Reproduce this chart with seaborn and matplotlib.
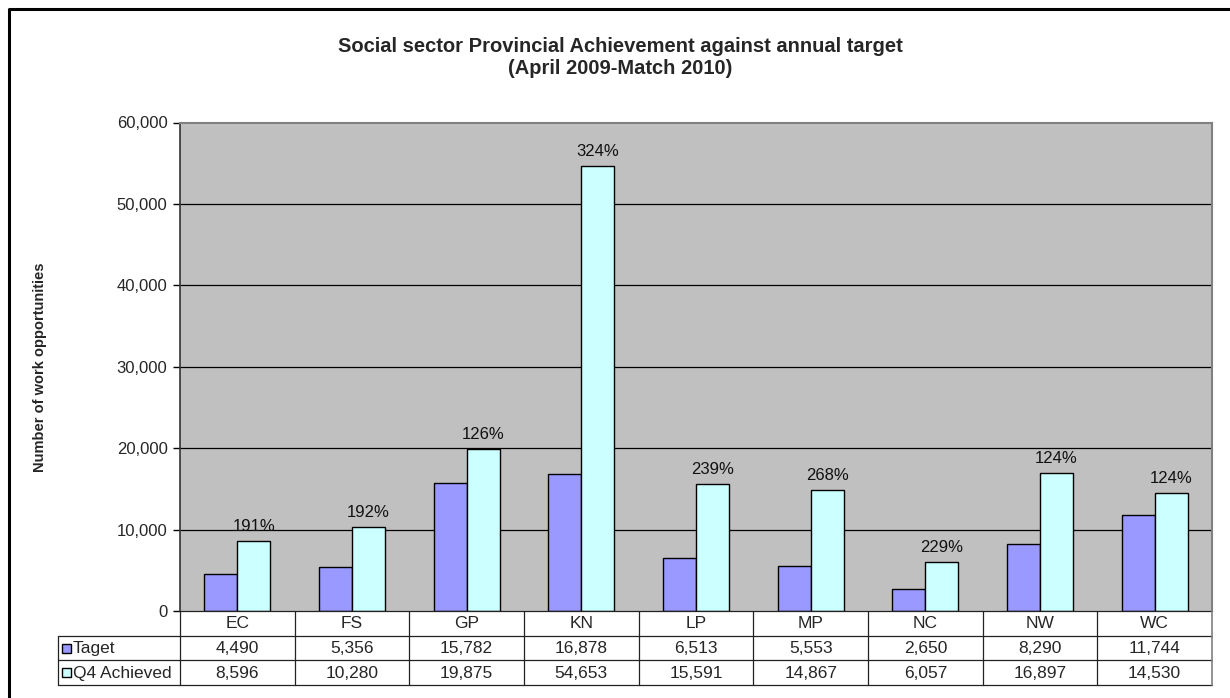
import numpy as np
import pandas as pd
import matplotlib
matplotlib.use("Agg")
import matplotlib.pyplot as plt
from matplotlib.lines import Line2D
from matplotlib.patches import Rectangle
from matplotlib.ticker import FuncFormatter
import seaborn as sns

# ---- data -------------------------------------------------------------
provinces = ["EC", "FS", "GP", "KN", "LP", "MP", "NC", "NW", "WC"]
target = [4490, 5356, 15782, 16878, 6513, 5553, 2650, 8290, 11744]
achieved = [8596, 10280, 19875, 54653, 15591, 14867, 6057, 16897, 14530]
series_names = ["Taget", "Q4 Achieved"]
pct_labels = ["191%", "192%", "126%", "324%", "239%", "268%", "229%", "124%", "124%"]
y_ticks = [0, 10000, 20000, 30000, 40000, 50000, 60000]

colors = ["#9999FF", "#CCFFFF"]

df = pd.DataFrame({
    "Province": provinces * 2,
    "Value": target + achieved,
    "Series": [series_names[0]] * len(provinces) + [series_names[1]] * len(provinces),
})

sns.set_theme(style="white")
plt.rcParams["font.family"] = ["Liberation Sans", "DejaVu Sans"]

W, H = 1230, 698
fig = plt.figure(figsize=(W / 100, H / 100), dpi=100)
fig.patch.set_facecolor("white")

def fx(px):
    return px / W

def fy(px):
    return 1 - px / H

# plot area
left_px, right_px, top_px, bot_px = 180, 1212, 122.5, 611
ax = fig.add_axes([fx(left_px), fy(bot_px), fx(right_px - left_px), (bot_px - top_px) / H])
ax.set_facecolor("#C0C0C0")

sns.barplot(data=df, x="Province", y="Value", hue="Series", palette=colors,
            saturation=1, width=0.575, gap=0, edgecolor="black", linewidth=1.0,
            legend=False, ax=ax, zorder=3)

ax.set_xlim(-0.5, len(provinces) - 0.5)
ax.set_ylim(0, 60000)
ax.set_yticks(y_ticks)
ax.yaxis.set_major_formatter(FuncFormatter(lambda v, p: f"{int(v):,}"))
ax.tick_params(axis="y", which="major", direction="out", length=5, width=1,
               color="black", labelsize=12, pad=4, left=True)
ax.tick_params(axis="x", bottom=False, labelbottom=False)
ax.set_xlabel("")
ax.set_ylabel("")
for v in y_ticks[1:-1]:
    ax.axhline(v, color="black", lw=0.9, zorder=1)

ax.spines["left"].set_color("#333333")
ax.spines["left"].set_linewidth(1.2)
for s in ("top", "right"):
    ax.spines[s].set_color("#808080")
    ax.spines[s].set_linewidth(1.5)
ax.spines["bottom"].set_visible(False)

# percentage labels over the achieved bars
ax.bar_label(ax.containers[1], labels=pct_labels, padding=5, fontsize=12, color="#111111")

# ---- data table under the plot ---------------------------------------
tbl_left_px, tbl_bot_px = 58, 685
unit_px = (right_px - left_px) / len(provinces)
label_w = (left_px - tbl_left_px) / unit_px
tab = fig.add_axes([fx(tbl_left_px), fy(tbl_bot_px), fx(right_px - tbl_left_px), (tbl_bot_px - bot_px) / H])
x0 = -0.5 - label_w
x_end = len(provinces) - 0.5
tab.set_xlim(x0, x_end)
tab.set_ylim(3, 0)
tab.axis("off")

line_kw = dict(color="#222222", lw=0.9, clip_on=False)
tab.add_line(Line2D([-0.5, x_end], [0, 0], **line_kw))
for r in (1, 2, 3):
    tab.add_line(Line2D([x0, x_end], [r, r], **line_kw))
for i in range(len(provinces) + 1):
    last = i == len(provinces)
    tab.add_line(Line2D([-0.5 + i, -0.5 + i], [0, 3], color="#808080" if last else "#222222",
                        lw=1.2 if last else 0.9, clip_on=False))
tab.add_line(Line2D([x0, x0], [1, 3], **line_kw))

for i, p in enumerate(provinces):
    tab.text(i, 0.52, p, ha="center", va="center", fontsize=12.5)
    tab.text(i, 1.52, f"{target[i]:,}", ha="center", va="center", fontsize=12.5)
    tab.text(i, 2.52, f"{achieved[i]:,}", ha="center", va="center", fontsize=12.5)

sq_w = 9 / unit_px
sq_h = 9 * 3 / (tbl_bot_px - bot_px)
for r, (name, col) in enumerate(zip(series_names, colors)):
    yc = 1.5 + r
    tab.add_patch(Rectangle((x0 + 4 / unit_px, yc - sq_h / 2), sq_w, sq_h,
                            facecolor=col, edgecolor="black", lw=1.0, clip_on=False))
    tab.text(x0 + 15 / unit_px, yc + 0.02, name, ha="left", va="center", fontsize=12.5)

# ---- titles ------------------------------------------------------------
fig.text(fx(620), fy(46), "Social sector Provincial Achievement against annual target",
         ha="center", va="center", fontsize=14.5, fontweight="bold")
fig.text(fx(620), fy(69), "(April 2009-Match 2010)",
         ha="center", va="center", fontsize=14.5, fontweight="bold")
fig.text(fx(40), fy(367), "Number of work opportunities", rotation=90,
         ha="center", va="center", fontsize=10.5, fontweight="bold")

# chart frame
fig.add_artist(Line2D([fx(9), fx(9), 1.0], [0.0, fy(9), fy(9)],
                      transform=fig.transFigure, color="black", lw=2.2))

fig.savefig("out.png", dpi=100, facecolor="white")
